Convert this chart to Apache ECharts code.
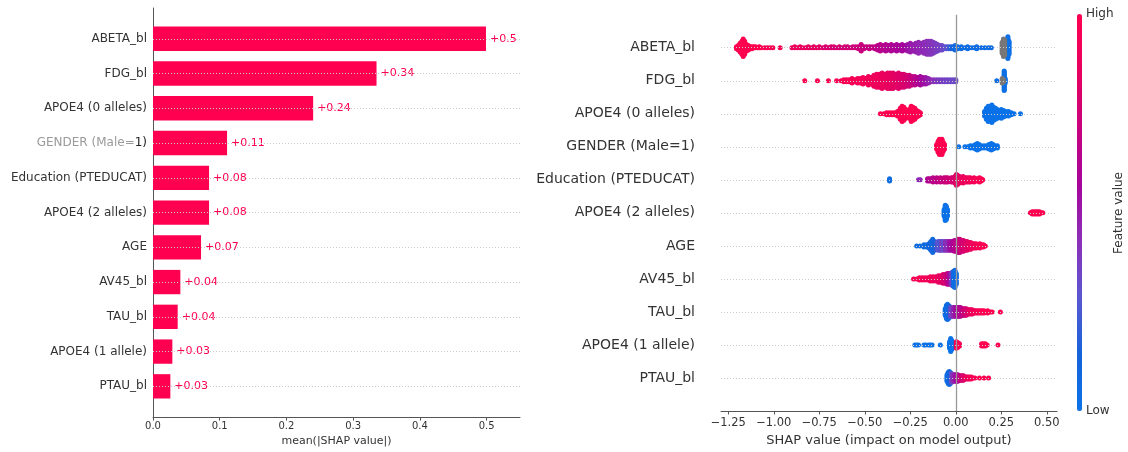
<!DOCTYPE html>
<html lang="en">
<head>
<meta charset="utf-8">
<title>SHAP summary</title>
<script src="https://cdn.jsdelivr.net/npm/echarts@6.0.0/dist/echarts.min.js"></script>
<style>
  html, body { margin: 0; padding: 0; background: #fff; }
  #chart { width: 1128px; height: 452px; }
</style>
</head>
<body>
<div id="chart"></div>
<script>
// features, top to bottom
var features = ['ABETA_bl', 'FDG_bl', 'APOE4 (0 alleles)', 'GENDER (Male=1)', 'Education (PTEDUCAT)',
  'APOE4 (2 alleles)', 'AGE', 'AV45_bl', 'TAU_bl', 'APOE4 (1 allele)', 'PTAU_bl'];
// mean(|SHAP value|)
var meanAbs = [0.499, 0.335, 0.240, 0.111, 0.084, 0.084, 0.072, 0.041, 0.037, 0.029, 0.026];
var barTicks = [0, 0.1, 0.2, 0.3, 0.4, 0.5];
var shapTicks = [-1.25, -1.0, -0.75, -0.5, -0.25, 0, 0.25, 0.5];

// beeswarm stacks: [shap value, dots in the stack, feature value 0..1 (null = missing)]
var abeta = [[-1.205,3,1],[-1.195,5,1],[-1.185,9,1],[-1.175,13,1],[-1.168,17,1],[-1.16,13,1],[-1.15,7,1],[-1.14,5,1],
  [-1.13,3,1],[-1.12,3,1],[-1.11,2,1],[-1.10,2,1],[-1.09,1,1],[-1.08,2,1],[-1.07,1,1],
  [-1.05,1,0.95],[-1.035,1,0.95],[-1.02,1,0.95],[-1.005,1,0.95],[-0.965,1,0.95],
  [-0.9,1,0.88],[-0.885,2,0.88],[-0.87,1,0.88],[-0.855,2,0.87],[-0.84,1,0.87],[-0.825,1,0.86],[-0.81,2,0.86],
  [-0.795,1,0.85],[-0.78,2,0.85],[-0.765,1,0.84],[-0.75,2,0.84],
  [-0.73,1,0.8],[-0.715,2,0.8],[-0.70,1,0.79],[-0.685,2,0.79],[-0.67,2,0.78],[-0.655,1,0.78],[-0.64,2,0.77],
  [-0.625,1,0.77],[-0.61,2,0.76],[-0.595,2,0.75],[-0.58,1,0.75],[-0.565,2,0.74],[-0.55,2,0.73],[-0.535,3,0.72],
  [-0.52,7,0.72],[-0.505,3,0.71],[-0.49,2,0.7],[-0.475,3,0.7],[-0.46,2,0.69],[-0.445,3,0.68],
  [-0.43,5,0.66],[-0.415,7,0.65],[-0.40,5,0.64],[-0.385,7,0.63],[-0.37,5,0.62],[-0.355,7,0.61],[-0.34,5,0.6],
  [-0.325,7,0.59],[-0.31,5,0.58],[-0.295,7,0.57],[-0.28,5,0.56],
  [-0.265,7,0.52],[-0.25,9,0.5],[-0.235,7,0.49],[-0.22,9,0.48],[-0.205,11,0.46],[-0.19,9,0.45],[-0.175,11,0.44],
  [-0.16,13,0.43],[-0.148,13,0.42],[-0.136,13,0.41],[-0.124,11,0.4],[-0.112,9,0.39],[-0.10,7,0.38],[-0.088,5,0.37],
  [-0.076,5,0.35],[-0.064,3,0.32],[-0.052,3,0.3],[-0.04,3,0.25],[-0.028,3,0.18],[-0.016,3,0.12],[-0.004,5,0.08],
  [0.01,3,0.05],[0.03,3,0.05],[0.05,1,0.05],[0.065,3,0.05],[0.085,1,0.05],[0.10,1,0.05],[0.115,3,0.05],
  [0.14,1,0.05],[0.16,1,0.05],[0.18,1,0.05],[0.195,1,0.05],
  [0.255,11,null],[0.262,17,null],[0.268,15,null],
  [0.28,9,0.02],[0.286,21,0.02],[0.292,13,0.02]];
var fdg = [[-0.83,1,1],[-0.76,1,1],[-0.70,1,1],[-0.655,1,0.98],
  [-0.63,1,0.97],[-0.615,3,0.97],[-0.60,3,0.96],[-0.585,3,0.96],[-0.57,5,0.95],[-0.555,3,0.95],[-0.54,5,0.94],
  [-0.525,5,0.94],[-0.51,7,0.93],[-0.495,5,0.93],[-0.48,9,0.92],[-0.465,7,0.92],[-0.45,11,0.9],[-0.435,13,0.9],
  [-0.42,13,0.89],[-0.405,15,0.88],[-0.39,13,0.87],[-0.375,15,0.86],[-0.36,15,0.85],[-0.345,15,0.84],[-0.33,13,0.83],
  [-0.315,15,0.82],[-0.30,13,0.8],[-0.285,13,0.79],[-0.27,11,0.77],[-0.255,11,0.74],[-0.24,9,0.7],[-0.225,9,0.66],
  [-0.21,7,0.62],[-0.195,9,0.58],[-0.18,7,0.55],[-0.165,7,0.52],[-0.15,5,0.48],[-0.135,3,0.45],[-0.12,3,0.42],
  [-0.105,3,0.4],[-0.09,3,0.38],[-0.075,3,0.37],[-0.06,3,0.36],[-0.045,3,0.35],[-0.03,3,0.35],[-0.015,3,0.34],[0.0,3,0.34],
  [0.225,1,0.05],[0.255,5,null],[0.262,3,null],[0.266,19,0.03],[0.271,5,0.03]];
var apoe0 = [[-0.414,1,1],[-0.395,1,1],[-0.38,3,1],[-0.365,3,1],[-0.35,3,1],[-0.335,3,1],[-0.32,5,1],[-0.305,11,1],
  [-0.295,15,1],[-0.285,13,1],[-0.275,9,1],[-0.265,7,1],[-0.255,9,1],[-0.245,15,1],[-0.235,13,1],[-0.225,11,1],
  [-0.215,7,1],[-0.205,5,1],[-0.195,3,1],
  [0.158,5,0],[0.168,11,0],[0.178,15,0],[0.188,11,0],[0.198,17,0],[0.208,13,0],[0.218,11,0],[0.228,9,0],
  [0.238,7,0],[0.25,9,0],[0.262,7,0],[0.275,5,0],[0.29,5,0],[0.305,3,0],[0.32,1,0],[0.355,1,0]];
var gender = [[-0.105,5,1],[-0.097,11,1],[-0.09,15,1],[-0.083,13,1],[-0.076,15,1],[-0.069,9,1],[-0.062,5,1],
  [0.016,1,0],[0.05,1,0],[0.065,1,0],[0.08,3,0],[0.095,3,0],[0.108,5,0],[0.118,7,0],[0.128,5,0],[0.14,3,0],
  [0.155,3,0],[0.17,3,0],[0.182,5,0],[0.195,7,0],[0.205,5,0],[0.215,3,0],[0.228,3,0]];
var educ = [[-0.364,3,0.05],[-0.205,1,0.45],[-0.195,1,0.45],
  [-0.155,3,0.62],[-0.145,3,0.63],[-0.135,3,0.64],[-0.125,5,0.65],[-0.115,3,0.66],[-0.105,5,0.67],[-0.095,3,0.68],
  [-0.085,5,0.69],[-0.075,3,0.7],[-0.065,5,0.71],[-0.055,5,0.72],[-0.045,5,0.73],[-0.035,3,0.74],[-0.025,5,0.75],
  [-0.015,5,0.77],[-0.005,7,0.79],[0.003,11,0.82],[0.011,9,0.84],[0.02,7,0.86],[0.03,5,0.87],[0.04,7,0.88],
  [0.05,5,0.89],[0.06,5,0.9],[0.07,5,0.91],[0.08,5,0.92],[0.09,3,0.93],[0.1,5,0.94],[0.11,3,0.95],[0.12,3,0.96],
  [0.13,5,0.97],[0.14,3,0.98],[0.148,1,1]];
var apoe2 = [[-0.064,7,0],[-0.058,15,0],[-0.052,13,0],[-0.046,7,0],
  [0.41,1,1],[0.42,3,1],[0.43,3,1],[0.44,3,1],[0.45,3,1],[0.46,3,1],[0.47,1,1],[0.478,1,1]];
var age = [[-0.215,1,0.05],[-0.197,1,0.05],[-0.175,3,0.08],[-0.16,3,0.1],[-0.147,5,0.1],[-0.137,9,0.12],
  [-0.127,13,0.1],[-0.117,9,0.15],[-0.107,7,0.2],[-0.097,9,0.3],[-0.087,9,0.25],[-0.077,9,0.38],[-0.067,9,0.3],
  [-0.057,9,0.45],[-0.047,9,0.4],[-0.037,9,0.5],[-0.027,9,0.55],[-0.017,9,0.6],[-0.008,11,0.62],[0.002,11,0.65],
  [0.012,13,0.7],[0.022,13,0.72],[0.032,11,0.75],[0.042,11,0.78],[0.052,9,0.8],[0.062,9,0.82],[0.072,7,0.85],
  [0.082,7,0.87],[0.092,5,0.9],[0.102,5,0.92],[0.112,5,0.93],[0.122,3,0.95],[0.132,5,0.96],[0.142,3,0.97],
  [0.152,3,0.98],[0.162,1,1]];
var av45 = [[-0.232,1,0.97],[-0.215,1,0.96],[-0.2,3,0.95],[-0.185,3,0.94],[-0.17,3,0.93],[-0.155,3,0.92],
  [-0.14,5,0.91],[-0.125,5,0.9],[-0.11,5,0.88],[-0.095,7,0.86],[-0.082,7,0.84],[-0.07,9,0.8],[-0.058,9,0.76],
  [-0.047,11,0.7],[-0.037,11,0.62],[-0.028,11,0.5],[-0.02,13,0.35],[-0.012,15,0.1],[-0.005,17,0.05],[0.002,11,0.04]];
var tau = [[-0.058,7,0.05],[-0.052,13,0.05],[-0.046,15,0.05],[-0.04,13,0.08],[-0.034,11,0.15],[-0.028,9,0.3],
  [-0.022,9,0.35],[-0.016,9,0.4],[-0.01,9,0.45],[-0.004,9,0.5],[0.003,9,0.55],[0.01,9,0.58],[0.018,9,0.6],
  [0.026,9,0.63],[0.034,7,0.66],[0.042,7,0.7],[0.05,7,0.73],[0.058,7,0.76],[0.066,5,0.8],[0.074,5,0.83],
  [0.082,5,0.86],[0.09,5,0.88],[0.098,3,0.9],[0.106,3,0.92],[0.115,3,0.94],[0.125,3,0.95],[0.135,3,0.96],
  [0.145,3,0.97],[0.155,3,0.98],[0.165,1,0.98],[0.175,3,0.99],[0.19,1,1],[0.2,1,1],[0.245,1,1]];
var apoe1 = [[-0.225,1,0],[-0.215,1,0],[-0.205,1,0],[-0.175,1,0],[-0.165,1,0],[-0.15,1,0],[-0.14,1,0],[-0.13,1,0],
  [-0.085,1,0],[-0.034,7,0],[-0.028,13,0],[-0.022,9,0],
  [0.003,7,1],[0.012,5,1],[0.02,3,1],[0.142,3,1],[0.152,3,1],[0.162,3,1],[0.172,1,1],[0.232,1,1]];
var ptau = [[-0.048,7,0.05],[-0.042,11,0.05],[-0.036,13,0.08],[-0.03,11,0.15],[-0.024,9,0.3],[-0.017,7,0.4],
  [-0.01,7,0.45],[-0.003,7,0.5],[0.004,7,0.55],[0.011,7,0.6],[0.018,5,0.65],[0.026,5,0.7],[0.034,5,0.75],
  [0.042,5,0.8],[0.05,3,0.84],[0.058,3,0.87],[0.066,3,0.9],[0.075,3,0.92],[0.085,3,0.94],[0.095,1,0.96],
  [0.105,1,0.97],[0.13,1,1],[0.155,1,1],[0.18,1,1]];
var swarmRows = [abeta, fdg, apoe0, gender, educ, apoe2, age, av45, tau, apoe1, ptau];

var RED = '#ff0051';
var FONT = 'DejaVu Sans';
var STEP = 0.033; // vertical offset per dot layer, in row units

// spread every stack up/down around its row (shap style layering)
var colored = [], missing = [];
swarmRows.forEach(function (stacks, i) {
  var row = features.length - 1 - i;
  stacks.forEach(function (s) {
    for (var k = 0; k < s[1]; k++) {
      var layer = Math.ceil(k / 2) * ((k % 2) * 2 - 1);
      if (s[2] === null) missing.push([s[0], row + layer * STEP]);
      else colored.push([s[0], row + layer * STEP, s[2]]);
    }
  });
});

function fmtBar(v) {
  return '+' + v.toFixed(2).replace(/0+$/, '').replace(/\.$/, '');
}
function rowLines(n) {
  var d = [];
  for (var i = 0; i < n; i++) d.push({ yAxis: i });
  return d;
}
var dotted = { color: '#cccccc', width: 1, type: [1, 2] };

var chart = echarts.init(document.getElementById('chart'));
var option = {
  animation: false,
  textStyle: { fontFamily: FONT },
  grid: [
    { left: 153, top: 8, width: 367, height: 411 },
    { left: 721, top: 14.7, width: 336, height: 397.3 }
  ],
  xAxis: [{
    gridIndex: 0, type: 'value', min: 0, max: 0.55,
    axisLine: { onZero: false, lineStyle: { color: '#555' } },
    axisTick: { length: 3.5, lineStyle: { color: '#555' }, customValues: barTicks },
    axisLabel: { customValues: barTicks, fontSize: 10, color: '#333', margin: 4, fontFamily: FONT,
      formatter: function (v) { return v.toFixed(1); } },
    splitLine: { show: false },
    name: 'mean(|SHAP value|)', nameLocation: 'middle', nameGap: 18,
    nameTextStyle: { fontSize: 11, color: '#333', fontFamily: FONT }
  }, {
    gridIndex: 1, type: 'value', min: -1.29, max: 0.556,
    axisLine: { onZero: false, lineStyle: { color: '#555' } },
    axisTick: { length: 3.5, lineStyle: { color: '#555' }, customValues: shapTicks },
    axisLabel: { customValues: shapTicks, fontSize: 11.5, color: '#333', margin: 6, fontFamily: FONT,
      formatter: function (v) { return (v < 0 ? '\u2212' : '') + Math.abs(v).toFixed(2); } },
    splitLine: { show: false },
    name: 'SHAP value (impact on model output)', nameLocation: 'middle', nameGap: 23,
    nameTextStyle: { fontSize: 13, color: '#333', fontFamily: FONT }
  }],
  yAxis: [{
    gridIndex: 0, type: 'value', inverse: true, min: -0.885, max: 10.885,
    axisLine: { show: true, onZero: false, lineStyle: { color: '#555' } },
    axisTick: { show: false },
    splitLine: { show: false },
    axisLabel: {
      customValues: features.map(function (f, i) { return i; }),
      fontSize: 12, color: '#333', margin: 6, fontFamily: FONT,
      formatter: function (v) {
        var name = features[Math.round(v)];
        if (name === 'GENDER (Male=1)') return '{g|GENDER (Male=}{d|1)}';
        return name;
      },
      rich: {
        g: { color: '#9a9a9a', fontSize: 12, fontFamily: FONT },
        d: { color: '#222', fontSize: 12, fontFamily: FONT }
      }
    }
  }, {
    gridIndex: 1, type: 'value', min: -1, max: 11, interval: 1,
    axisLine: { show: false, onZero: false }, axisTick: { show: false }, splitLine: { show: false },
    axisLabel: { fontSize: 14, color: '#333', margin: 26, fontFamily: FONT,
      formatter: function (v) {
        return (v >= 0 && v < features.length) ? features[features.length - 1 - v] : '';
      } }
  }],
  visualMap: {
    type: 'continuous', min: 0, max: 1, dimension: 2, seriesIndex: 4,
    show: true, calculable: false, hoverLink: false, padding: 0,
    itemWidth: 5, itemHeight: 397, left: 1077, top: 14,
    inRange: { color: ['#0b72e8', '#1563d9', '#5a57d0', '#8c2fb8', '#a5059c', '#c8007c', '#e8005f', RED] }
  },
  graphic: [
    { type: 'text', left: 1086, top: 8, style: { text: 'High', fontSize: 12, fill: '#333', fontFamily: FONT } },
    { type: 'text', left: 1086, top: 405, style: { text: 'Low', fontSize: 12, fill: '#333', fontFamily: FONT } },
    { type: 'text', x: 1119, y: 213, rotation: Math.PI / 2,
      style: { text: 'Feature value', fontSize: 12, fill: '#333', fontFamily: FONT, align: 'center', verticalAlign: 'middle' } }
  ],
  series: [
    // dotted guide lines behind the bars
    { type: 'line', xAxisIndex: 0, yAxisIndex: 0, data: [], z: 1,
      markLine: { silent: true, symbol: ['none', 'none'], label: { show: false }, lineStyle: dotted, data: rowLines(features.length) } },
    {
      type: 'custom', xAxisIndex: 0, yAxisIndex: 0, z: 3,
      data: meanAbs.map(function (v, i) { return [v, i]; }),
      renderItem: function (params, api) {
        var v = api.value(0), y = api.value(1);
        var p0 = api.coord([0, y]);
        var p1 = api.coord([v, y]);
        var h = api.size([0, 0.7])[1];
        return {
          type: 'group',
          children: [
            { type: 'rect', shape: { x: p0[0], y: p0[1] - h / 2, width: p1[0] - p0[0], height: h }, style: { fill: RED } },
            { type: 'text', x: p1[0] + 3, y: p1[1],
              style: { text: fmtBar(v), fill: RED, fontSize: 11, fontFamily: FONT, verticalAlign: 'middle',
                backgroundColor: '#fff', padding: [1, 2, 1, 1] } }
          ]
        };
      }
    },
    // row guides + zero line of the beeswarm
    { type: 'line', xAxisIndex: 1, yAxisIndex: 1, data: [], z: 1,
      markLine: { silent: true, symbol: ['none', 'none'], label: { show: false }, lineStyle: dotted, data: rowLines(features.length) } },
    { type: 'line', xAxisIndex: 1, yAxisIndex: 1, data: [], z: 1,
      markLine: { silent: true, symbol: ['none', 'none'], label: { show: false },
        lineStyle: { color: '#999', width: 1.3, type: 'solid' }, data: [{ xAxis: 0 }] } },
    { type: 'scatter', xAxisIndex: 1, yAxisIndex: 1, data: colored, symbolSize: 5, z: 3,
      itemStyle: { opacity: 1 } },
    { type: 'scatter', xAxisIndex: 1, yAxisIndex: 1, data: missing, symbolSize: 5, z: 3,
      itemStyle: { color: '#777777', opacity: 1 } }
  ]
};
chart.setOption(option);
</script>
</body>
</html>
